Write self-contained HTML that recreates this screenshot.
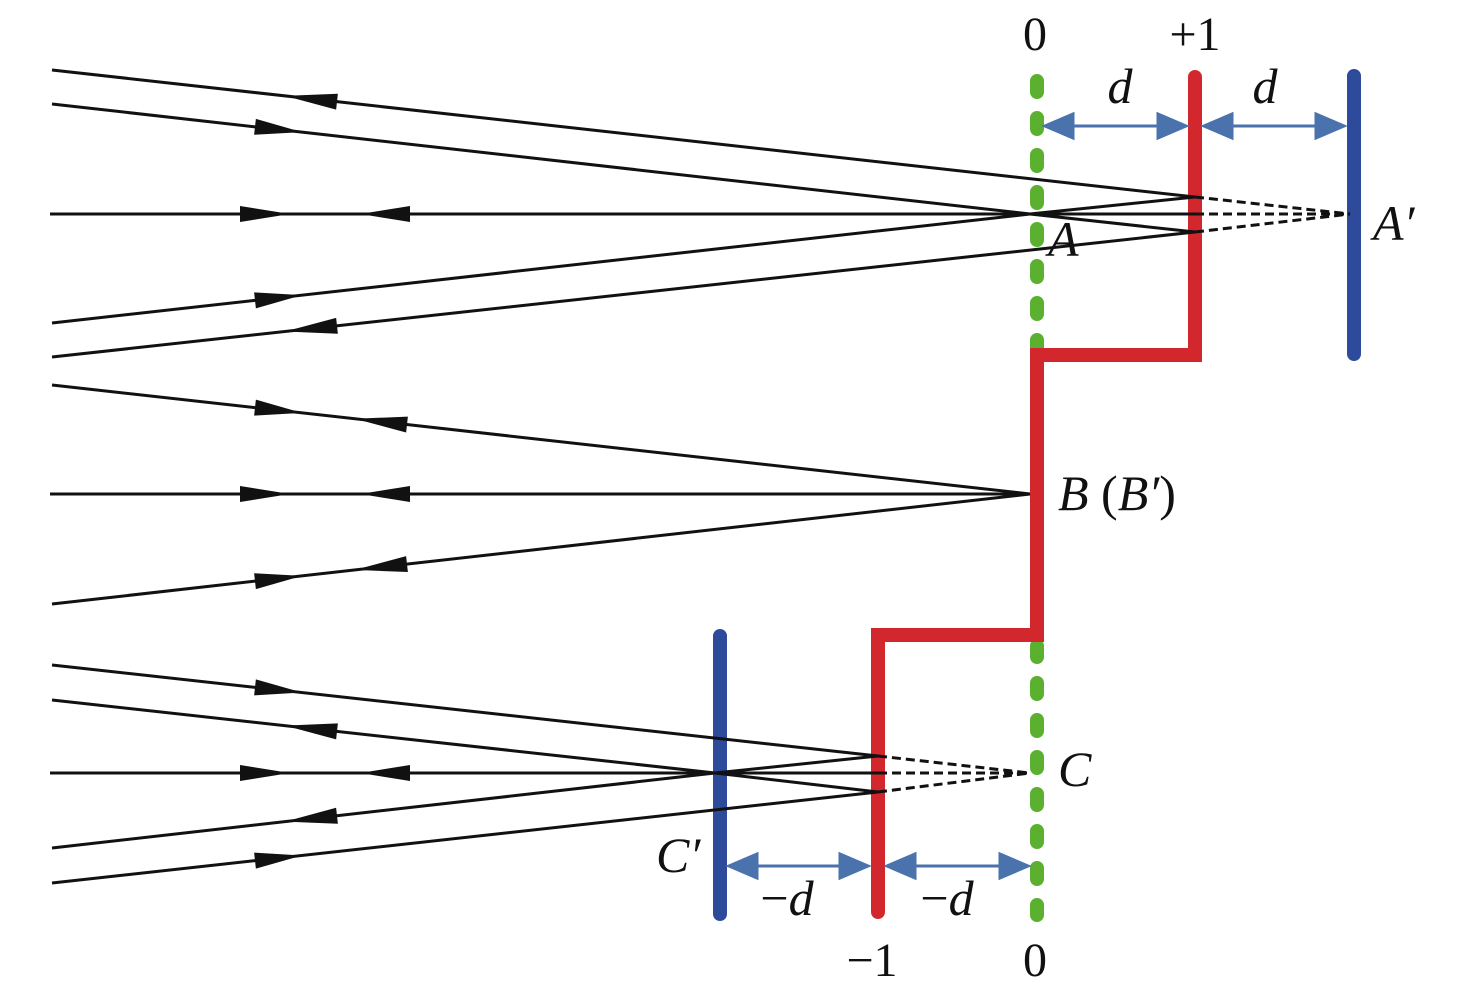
<!DOCTYPE html>
<html><head><meta charset="utf-8"><style>
html,body{margin:0;padding:0;background:#fff;}
svg{display:block;}
text{font-family:"Liberation Serif","Times New Roman",serif;fill:#111;}
</style></head><body>
<svg id="s" width="1476" height="998" viewBox="0 0 1476 998" xmlns="http://www.w3.org/2000/svg">
<line x1="1037" y1="81" x2="1037" y2="355" stroke="#5cb030" stroke-width="14" stroke-dasharray="11 26" stroke-linecap="round"/>
<line x1="1037" y1="646" x2="1037" y2="915" stroke="#5cb030" stroke-width="14" stroke-dasharray="11 26" stroke-linecap="round"/>
<polyline points="1195,77 1195,355 1037,355 1037,635 878,635 878,912" fill="none" stroke="#d2282d" stroke-width="14" stroke-linecap="round" stroke-linejoin="miter"/>
<line x1="1354" y1="76" x2="1354" y2="354" stroke="#2e4a9a" stroke-width="14" stroke-linecap="round"/>
<line x1="720" y1="636" x2="720" y2="914" stroke="#2e4a9a" stroke-width="14" stroke-linecap="round"/>
<g id="rays" stroke="#111" stroke-width="3" fill="none"></g>
<g id="heads" fill="#111"></g>
<g id="blue" fill="#4a72ad" stroke="#4a72ad" stroke-width="3"></g>
<text x="1035" y="50" font-size="48" text-anchor="middle">0</text>
<text x="1195" y="50" font-size="48" text-anchor="middle">+1</text>
<text x="1120" y="103" font-size="50" font-style="italic" text-anchor="middle">d</text>
<text x="1265" y="103" font-size="50" font-style="italic" text-anchor="middle">d</text>
<text x="1048" y="256" font-size="50" font-style="italic">A</text>
<text x="1373" y="240" font-size="50" font-style="italic">A′</text>
<text x="1058" y="510" font-size="50"><tspan font-style="italic">B</tspan> (<tspan font-style="italic">B′</tspan>)</text>
<text x="1058" y="786" font-size="50" font-style="italic">C</text>
<text x="656" y="872" font-size="50" font-style="italic">C′</text>
<text x="787" y="915" font-size="50" text-anchor="middle">−<tspan font-style="italic">d</tspan></text>
<text x="947" y="915" font-size="50" text-anchor="middle">−<tspan font-style="italic">d</tspan></text>
<text x="872" y="976" font-size="48" text-anchor="middle">−1</text>
<text x="1035" y="976" font-size="48" text-anchor="middle">0</text>
</svg>
<script>
var NS="http://www.w3.org/2000/svg";
var R=document.getElementById('rays'),H=document.getElementById('heads'),B=document.getElementById('blue');
function ln(g,x1,y1,x2,y2,dash){var l=document.createElementNS(NS,'line');l.setAttribute('x1',x1);l.setAttribute('y1',y1);l.setAttribute('x2',x2);l.setAttribute('y2',y2);if(dash)l.setAttribute('stroke-dasharray',dash);g.appendChild(l);}
function yAt(x1,y1,x2,y2,x){return y1+(y2-y1)*(x-x1)/(x2-x1);}
function head(x1,y1,x2,y2,bx,tx,g,w){g=g||H;w=w||8;var by=yAt(x1,y1,x2,y2,bx),ty=yAt(x1,y1,x2,y2,tx);var dx=tx-bx,dy=ty-by,L=Math.hypot(dx,dy),nx=-dy/L*w,ny=dx/L*w;var p=document.createElementNS(NS,'polygon');p.setAttribute('points',tx+','+ty+' '+(bx+nx)+','+(by+ny)+' '+(bx-nx)+','+(by-ny));g.appendChild(p);}
function ray(x1,y1,x2,y2,arrows){ln(R,x1,y1,x2,y2);(arrows||[]).forEach(function(a){head(x1,y1,x2,y2,a[0],a[1]);});}
var RT=[255,302],LT=[337,285],RH=[240,290],LH=[410,360];
var Ay=214,Ax=1030;
ray(52,70,1195,197,[LT]);
ray(52,104,Ax,Ay,[RT]);ray(Ax,Ay,1195,232);
ray(52,323,Ax,Ay,[RT]);ray(Ax,Ay,1195,197);
ray(52,357,1195,232,[LT]);
ray(50,Ay,Ax,Ay,[RH,LH]);ln(R,Ax,Ay,1195,Ay);
ln(R,1195,197,1350,214,"9 5");ln(R,1195,232,1350,214,"9 5");ln(R,1195,214,1350,214,"9 5");
var By=494;
ray(52,385,Ax,By,[RT,LT.map(function(v){return v+70})]);
ray(52,604,Ax,By,[RT,LT.map(function(v){return v+70})]);
ray(50,By,Ax,By,[RH,LH]);
var Cy=773,Cx=715;
ray(52,665,878,756,[RT]);
ray(52,700,Cx,Cy,[LT]);ray(Cx,Cy,878,792);
ray(52,848,Cx,Cy,[LT]);ray(Cx,Cy,878,756);
ray(52,883,878,792,[RT]);
ray(50,Cy,878,Cy,[RH,LH]);
ln(R,878,756,1030,773,"9 5");ln(R,878,792,1030,773,"9 5");ln(R,878,773,1030,773,"9 5");
function dim(x1,x2,y){ln(B,x1+20,y,x2-20,y);head(x1,y,x2,y,x1+28,x1,B,12);head(x1,y,x2,y,x2-28,x2,B,12);}
dim(1045,1186,126);dim(1204,1344,126);dim(729,868,866);dim(887,1028,866);
</script>
</body></html>
